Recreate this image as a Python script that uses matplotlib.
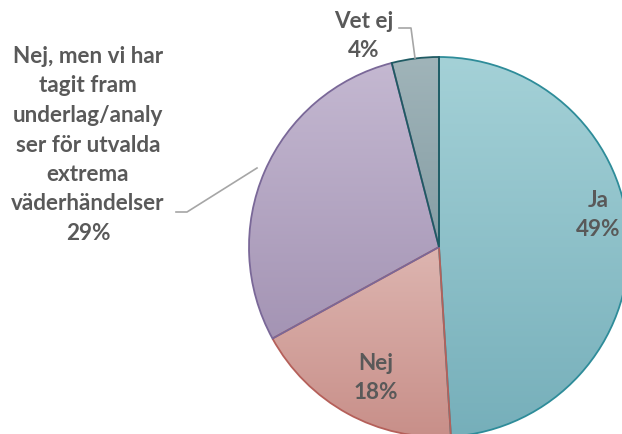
import numpy as np
import matplotlib
matplotlib.use("Agg")
import matplotlib.pyplot as plt
from matplotlib.colors import LinearSegmentedColormap

# data
labels = ["Ja", "Nej",
          "Nej, men vi har\ntagit fram\nunderlag/analy\nser för utvalda\nextrema\nväderhändelser",
          "Vet ej"]
values = [49, 18, 29, 4]
top_colors = ["#a4d1d7", "#ddb5b0", "#c4b8d1", "#a0b4b9"]
bottom_colors = ["#76afba", "#c88f89", "#a494b4", "#869ea5"]
edge_colors = ["#2e8c99", "#b5605a", "#7a6898", "#1f5a63"]

W, H = 622, 434
fig = plt.figure(figsize=(W / 100, H / 100), dpi=100)
ax = fig.add_axes([0, 0, 1, 1])

cx, cy, r = 439, H - 247, 190
wedges, _ = ax.pie(values, center=(cx, cy), radius=r, startangle=90,
                   counterclock=False, frame=True)
ax.set_xlim(0, W)
ax.set_ylim(0, H)
ax.set_aspect("equal")
ax.axis("off")

# vertical gradient fill per slice, clipped to the wedge
grad = np.linspace(0, 1, 256).reshape(-1, 1)
for w, c0, c1, ec in zip(wedges, top_colors, bottom_colors, edge_colors):
    bb = w.get_path().get_extents()
    cmap = LinearSegmentedColormap.from_list("g", [c1, c0])
    im = ax.imshow(grad, cmap=cmap, aspect="auto", origin="lower",
                   extent=(bb.x0, bb.x1, bb.y0, bb.y1), zorder=1)
    im.set_clip_path(w)
    w.set_facecolor("none")
    w.set_edgecolor(ec)
    w.set_linewidth(1.3)
    w.set_zorder(2)

tc = "#595959"
font = dict(family=["Lato", "DejaVu Sans"], fontweight="bold", fontsize=16.2,
            color=tc, ha="center", va="center", linespacing=1.5)

ax.text(598, H - 215, f"{labels[0]}\n{values[0]}%", **font)
ax.text(376, H - 378, f"{labels[1]}\n{values[1]}%", **font)
ax.text(88, H - 145, f"{labels[2]}\n{values[2]}%", **font)
ax.text(364, H - 36, f"{labels[3]}\n{values[3]}%", **font)

# leader lines
lc = "#a6a6a6"
ax.plot([399, 411, 415], [H - 28, H - 28, H - 58], color=lc, lw=1.2, zorder=3)
ax.plot([176, 187, 257], [H - 212, H - 212, H - 168], color=lc, lw=1.2, zorder=3)

fig.savefig("out.png", dpi=100)
